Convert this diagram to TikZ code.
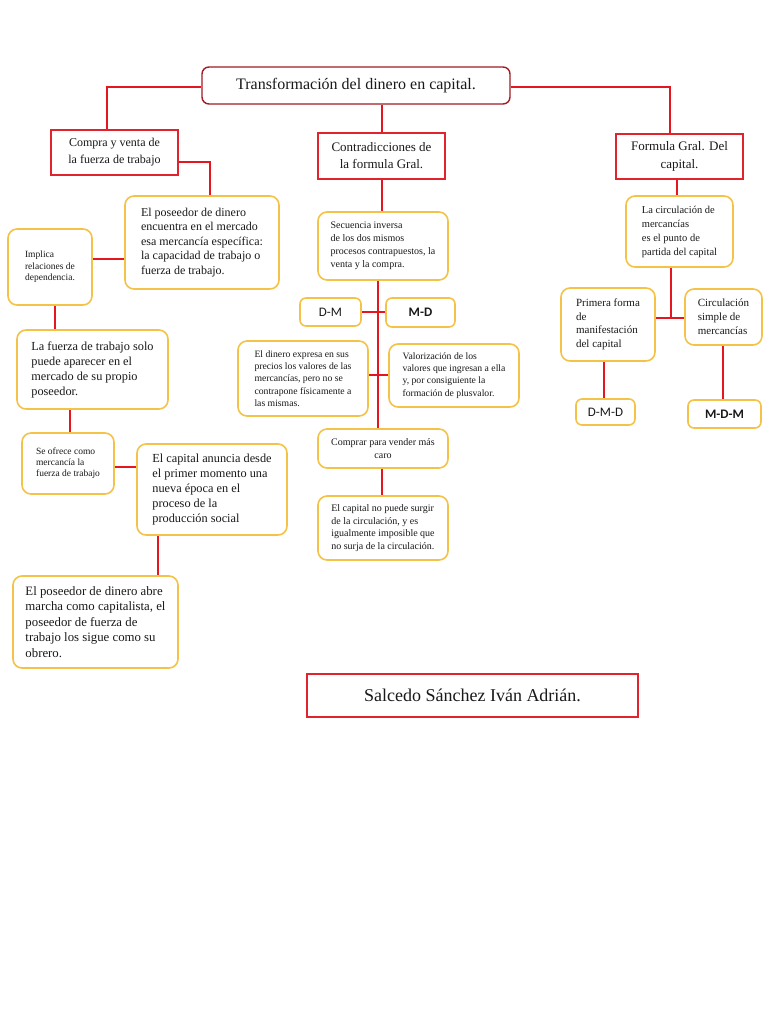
\documentclass[tikz,border=0pt]{standalone}
\usepackage{fontspec}
\setmainfont{Liberation Serif}
\newfontfamily\labelsans{Carlito}
\definecolor{linered}{RGB}{228,22,32}
\definecolor{boxred}{RGB}{225,35,45}
\definecolor{titlered}{RGB}{160,28,38}
\definecolor{gold}{RGB}{245,194,72}
\definecolor{ink}{RGB}{25,25,25}
\tikzset{
  ybox/.style={draw=gold, line width=1.6pt, rounded corners=9pt, fill=white, inner sep=0pt, align=left, text=ink},
  rbox/.style={draw=boxred, line width=1.4pt, fill=white, inner sep=0pt, align=center, text=ink},
  conn/.style={draw=linered, color=linered, line width=1.9pt},
  lblbox/.style={ybox, rounded corners=6pt, font=\labelsans\fontsize{13}{15}\selectfont},
  lblboxb/.style={ybox, rounded corners=6pt, font=\labelsans\bfseries\fontsize{13}{15}\selectfont},
}
\begin{document}
\begin{tikzpicture}[x=1pt,y=-1pt]
\fill[white] (0,0) rectangle (768,1024);
\useasboundingbox (0,0) rectangle (768,1024);

% top level
\node[draw=titlered, line width=1.4pt, rounded corners=7pt, fill=white, inner sep=0pt, text=ink,
      minimum width=308pt, minimum height=37pt, font=\fontsize{16}{19}\selectfont] (title) at (356,85.5)
      {Transformación del dinero en capital.};
\node[rbox, minimum width=127pt, minimum height=45pt, font=\fontsize{12}{17}\selectfont] (compra) at (114.5,152.5)
      {Compra y venta de\\la fuerza de trabajo};
\node[rbox, minimum width=127pt, minimum height=46pt, font=\fontsize{13}{17}\selectfont] (contra) at (381.5,156)
      {Contradicciones de\\la formula Gral.};
\node[rbox, minimum width=127pt, minimum height=45pt, font=\fontsize{13}{17.5}\selectfont] (formula) at (679.5,156.5)
      {Formula Gral. Del\\capital.};

% left column
\node[ybox, minimum width=154pt, minimum height=93pt, font=\fontsize{12}{14.5}\selectfont] (poseedor) at (202,242.5)
      {El poseedor de dinero\\encuentra en el mercado\\esa mercancía específica:\\la capacidad de trabajo o\\fuerza de trabajo.};
\node[ybox, minimum width=84pt, minimum height=76pt, font=\fontsize{9.5}{11.5}\selectfont] (implica) at (50,267)
      {Implica\\relaciones de\\dependencia.};
\node[ybox, minimum width=151pt, minimum height=79pt, font=\fontsize{12.3}{15}\selectfont] (fuerza) at (92.5,369.5)
      {La fuerza de trabajo solo\\puede aparecer en el\\mercado de su propio\\poseedor.};
\node[ybox, minimum width=92pt, minimum height=61pt, font=\fontsize{9.5}{11}\selectfont] (seofrece) at (68,463.5)
      {Se ofrece como\\mercancía la\\fuerza de trabajo};
\node[ybox, minimum width=150pt, minimum height=91pt, font=\fontsize{12.3}{14.8}\selectfont] (anuncia) at (212,489.5)
      {El capital anuncia desde\\el primer momento una\\nueva época en el\\proceso de la\\producción social};
\node[ybox, minimum width=165pt, minimum height=92pt, font=\fontsize{12.8}{15.5}\selectfont] (abre) at (95.5,622)
      {El poseedor de dinero abre\\marcha como capitalista, el\\poseedor de fuerza de\\trabajo los sigue como su\\obrero.};

% centre column
\node[ybox, minimum width=130pt, minimum height=68pt, font=\fontsize{10}{13}\selectfont] (secuencia) at (383,246)
      {Secuencia inversa\\de los dos mismos\\procesos contrapuestos, la\\venta y la compra.};
\node[lblbox, minimum width=61pt, minimum height=28pt] (dm) at (330.5,312) {D-M};
\node[lblboxb, minimum width=69pt, minimum height=29pt] (md) at (420.5,312.5) {M-D};
\node[ybox, minimum width=130pt, minimum height=75pt, font=\fontsize{9.7}{12.3}\selectfont] (dinero) at (303,378.5)
      {El dinero expresa en sus\\precios los valores de las\\mercancías, pero no se\\contrapone físicamente a\\las mismas.};
\node[ybox, minimum width=130pt, minimum height=63pt, font=\fontsize{9.7}{12.3}\selectfont] (valor) at (454,375.5)
      {Valorización de los\\valores que ingresan a ella\\y, por consiguiente la\\formación de plusvalor.};
\node[ybox, align=center, minimum width=130pt, minimum height=39pt, font=\fontsize{10}{13}\selectfont] (comprar) at (383,448.5)
      {Comprar para vender más\\caro};
\node[ybox, minimum width=130pt, minimum height=64pt, font=\fontsize{10}{12.4}\selectfont] (nopuede) at (383,528)
      {El capital no puede surgir\\de la circulación, y es\\igualmente imposible que\\no surja de la circulación.};

% right column
\node[ybox, minimum width=107pt, minimum height=71pt, font=\fontsize{10.5}{14}\selectfont] (circ) at (679.5,231.5)
      {La circulación de\\mercancías\\es el punto de\\partida del capital};
\node[ybox, minimum width=94pt, minimum height=73pt, font=\fontsize{11}{13.5}\selectfont] (primera) at (608,324.5)
      {Primera forma\\de\\manifestación\\del capital};
\node[ybox, minimum width=77pt, minimum height=56pt, font=\fontsize{11}{14}\selectfont] (csimple) at (723.5,317)
      {Circulación\\simple de\\mercancías};
\node[lblbox, minimum width=59pt, minimum height=26pt] (dmd) at (605.5,412) {D-M-D};
\node[lblboxb, minimum width=73pt, minimum height=28pt] (mdm) at (724.5,414) {M-D-M};

% author
\node[draw=boxred, line width=1.2pt, fill=white, inner sep=0pt, text=ink, minimum width=331pt, minimum height=43pt,
      font=\fontsize{18}{21}\selectfont] (autor) at (472.5,695.5) {Salcedo Sánchez Iván Adrián.};

% connectors
\coordinate (a1) at ([yshift=-1.5pt]title.west);
\coordinate (c1) at ([xshift=-7.5pt]compra.north);
\draw[conn] (a1) -| (c1);
\coordinate (a2) at ([xshift=0.5pt]contra.north);
\coordinate (a3) at (a2 |- title.south);
\draw[conn] (a3) -- (a2);
\coordinate (a4) at ([yshift=-1.5pt]title.east);
\coordinate (c2) at ([xshift=-9.5pt]formula.north);
\draw[conn] (a4) -| (c2);
\coordinate (c3) at ([yshift=-9.5pt]compra.east);
\coordinate (c4) at ([xshift=8pt]poseedor.north);
\draw[conn] (c3) -| (c4);
\coordinate (c5) at ([yshift=8pt]implica.east);
\draw[conn] (c5) -- (c5 -| poseedor.west);
\coordinate (c6) at ([xshift=5pt]implica.south);
\draw[conn] (c6) -- (c6 |- fuerza.north);
\coordinate (c7) at ([xshift=2pt]seofrece.north);
\draw[conn] (c7 |- fuerza.south) -- (c7);
\coordinate (c8) at ([yshift=-3.5pt]seofrece.east);
\draw[conn] (c8) -- (c8 -| anuncia.west);
\coordinate (c9) at ([xshift=-54pt]anuncia.south);
\draw[conn] (c9) -- (c9 |- abre.north);
\coordinate (a5) at ([xshift=0.5pt]contra.south);
\draw[conn] (a5) -- (a5 |- secuencia.north);
\coordinate (c10) at ([xshift=-5pt]secuencia.south);
\draw[conn] (c10) -- (c10 |- comprar.north);
\coordinate (a6) at (dm.east);
\draw[conn] (a6) -- (a6 -| md.west);
\coordinate (c11) at ([yshift=3.5pt]dinero.east);
\draw[conn] (c11) -- (c11 -| valor.west);
\coordinate (c12) at ([xshift=-1pt]comprar.south);
\draw[conn] (c12) -- (c12 |- nopuede.north);
\coordinate (c13) at ([xshift=-2.5pt]formula.south);
\draw[conn] (c13) -- (c13 |- circ.north);
\coordinate (c14) at ([yshift=6.5pt]primera.east);
\draw[conn] (c14) -- (c14 -| csimple.west);
\coordinate (c15) at ([xshift=-8.5pt]circ.south);
\draw[conn] (c15) -- (c15 |- c14);
\coordinate (c16) at ([xshift=-4pt]primera.south);
\draw[conn] (c16) -- (c16 |- dmd.north);
\coordinate (a7) at ([xshift=-0.5pt]csimple.south);
\draw[conn] (a7) -- (a7 |- mdm.north);
\end{tikzpicture}
\end{document}
